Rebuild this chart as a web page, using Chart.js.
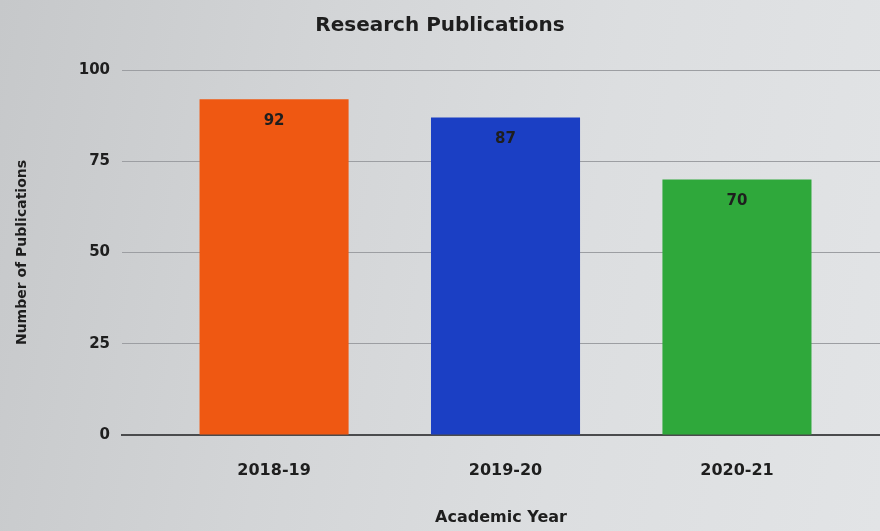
<!DOCTYPE html>
<html>
<head>
<meta charset="utf-8">
<script src="https://cdn.jsdelivr.net/npm/chart.js@4"></script>
<style>
  html, body { margin: 0; padding: 0; }
  body {
    width: 880px; height: 531px; overflow: hidden;
    background: linear-gradient(100deg, #c6c8ca 0%, #d3d5d7 35%, #dcdee0 65%, #e2e4e6 100%);
  }
  #wrap { width: 880px; height: 531px; }
</style>
</head>
<body>
<div id="wrap"><canvas id="chart"></canvas></div>
<script>
const YEARS = ["2018-19", "2019-20", "2020-21"];
const PUBLICATIONS = [92, 87, 70];
const BAR_COLORS = ["#ef5812", "#1b3fc4", "#2fa83b"];
const Y_TICKS = [0, 25, 50, 75, 100];

const FONT = "'DejaVu Sans', sans-serif";
const INK = "#1e1e1e";

// value printed just under the top of each bar
const barValues = {
  id: "barValues",
  afterDatasetsDraw(chart) {
    const ctx = chart.ctx;
    const meta = chart.getDatasetMeta(0);
    ctx.save();
    ctx.font = `bold 15px ${FONT}`;
    ctx.fillStyle = INK;
    ctx.textAlign = "center";
    ctx.textBaseline = "middle";
    meta.data.forEach((bar, i) => {
      ctx.fillText(String(PUBLICATIONS[i]), bar.x, bar.y + 22);
    });
    ctx.restore();
  },
};

new Chart(document.getElementById("chart"), {
  type: "bar",
  data: {
    datasets: [{
      data: PUBLICATIONS.map((v, i) => ({ x: i, y: v })),
      backgroundColor: BAR_COLORS,
      borderWidth: 0,
      categoryPercentage: 1,
      barPercentage: 0.644,
    }],
  },
  options: {
    responsive: true,
    maintainAspectRatio: false,
    animation: false,
    layout: { padding: 0 },
    plugins: {
      legend: { display: false },
      tooltip: { enabled: false },
      title: {
        display: true,
        text: "Research Publications",
        color: INK,
        font: { family: FONT, size: 20, weight: "bold" },
        padding: { top: 14, bottom: 32 },
      },
    },
    scales: {
      x: {
        type: "linear",
        offset: false,
        min: -0.657,
        max: 2.618,
        afterFit(scale) { scale.height = 96; },
        grid: { display: false, offset: false },
        border: { display: true, color: "#4a4b4d", width: 2 },
        ticks: {
          stepSize: 1,
          includeBounds: false,
          autoSkip: false,
          maxRotation: 0,
          padding: 18,
          color: INK,
          font: { family: FONT, size: 16, weight: "bold" },
          callback: (v) => YEARS[v] ?? "",
        },
        title: {
          display: true,
          text: "Academic Year",
          color: INK,
          font: { family: FONT, size: 16, weight: "bold" },
          padding: { top: 0, bottom: 4 },
        },
      },
      y: {
        min: Y_TICKS[0],
        max: Y_TICKS[Y_TICKS.length - 1],
        afterFit(scale) { scale.width = 122; },
        afterBuildTicks(scale) { scale.ticks = Y_TICKS.map((v) => ({ value: v })); },
        grid: { color: "#9c9ea2", lineWidth: 1, drawTicks: false },
        border: { display: false },
        ticks: {
          padding: 12,
          color: INK,
          font: { family: FONT, size: 15, weight: "bold" },
        },
        title: {
          display: true,
          text: "Number of Publications",
          color: INK,
          font: { family: FONT, size: 14, weight: "bold" },
          padding: { top: 14, bottom: 0 },
        },
      },
    },
  },
  plugins: [barValues],
});
</script>
</body>
</html>
